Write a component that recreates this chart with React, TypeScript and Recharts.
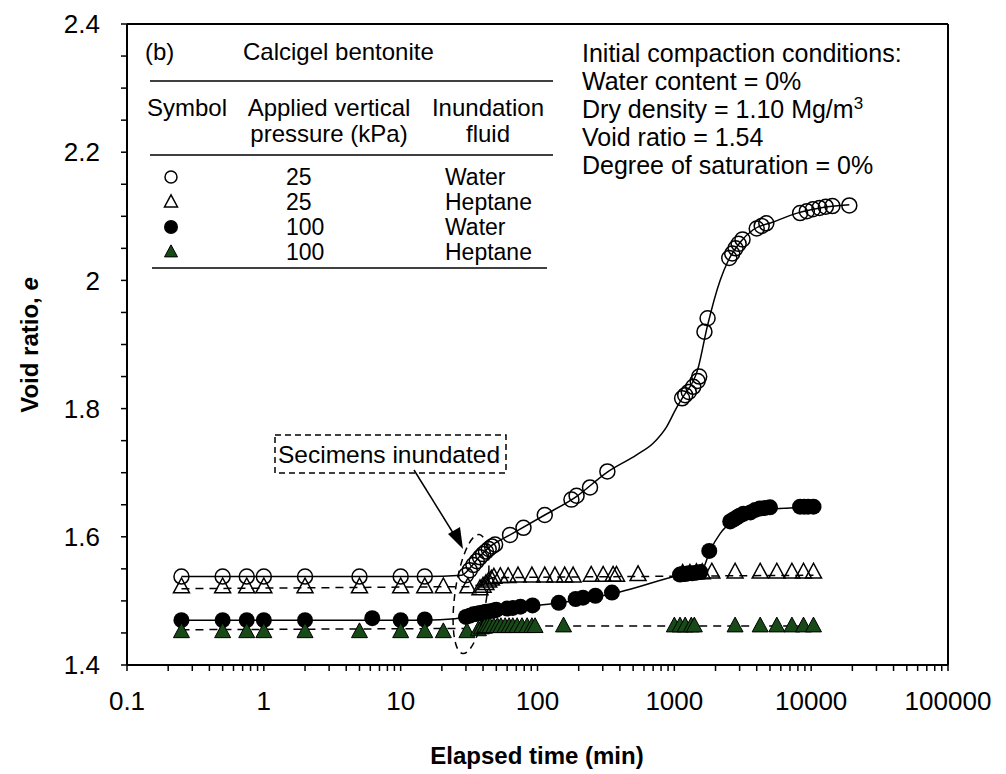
import React from "react";
import { ComposedChart, Line, Scatter, XAxis, YAxis } from "recharts";

const FONT = "'Liberation Sans', Arial, sans-serif";

// 25 kPa, water (open circles)
const water25Time = [0.25, 0.5, 0.75, 1, 2, 5, 10, 15, 30, 32, 34, 36, 38, 40, 42, 44, 46.5, 49, 63, 79, 113, 177, 193, 242, 324, 1140, 1200, 1275, 1375, 1480, 1520, 1660, 1750, 2520, 2650, 2800, 2950, 3150, 4000, 4350, 4700, 8300, 9300, 10300, 11500, 12800, 14300, 19000];
const water25Void = [1.538, 1.538, 1.538, 1.538, 1.538, 1.538, 1.538, 1.538, 1.54, 1.548, 1.556, 1.562, 1.568, 1.573, 1.577, 1.581, 1.585, 1.588, 1.603, 1.614, 1.634, 1.658, 1.664, 1.677, 1.702, 1.816, 1.821, 1.826, 1.834, 1.843, 1.85, 1.92, 1.941, 2.035, 2.042, 2.05, 2.057, 2.064, 2.081, 2.085, 2.089, 2.105, 2.108, 2.111, 2.113, 2.115, 2.116, 2.117];
const water25FitTime = [0.25, 15, 28, 32, 38, 46.5, 63, 113, 190, 324, 530, 700, 880, 1030, 1140, 1500, 1737, 2160, 2480, 3040, 3770, 5280, 7900, 11600, 19000];
const water25FitVoid = [1.538, 1.538, 1.54, 1.551, 1.57, 1.587, 1.603, 1.634, 1.662, 1.701, 1.728, 1.746, 1.772, 1.8, 1.816, 1.865, 1.927, 2.0, 2.031, 2.06, 2.079, 2.091, 2.105, 2.113, 2.118];

// 25 kPa, heptane (open triangles)
const heptane25Time = [0.25, 0.5, 0.75, 1, 2, 5, 10, 15, 20.5, 31, 38, 40, 42, 44, 46, 48, 53.5, 61, 72, 91, 113, 134, 158, 182, 247, 302, 357, 378, 543, 1150, 1300, 1450, 1600, 1880, 2780, 4240, 5610, 7230, 8790, 10400];
const heptane25Void = [1.522, 1.522, 1.522, 1.522, 1.522, 1.522, 1.522, 1.522, 1.522, 1.522, 1.519, 1.523, 1.527, 1.531, 1.534, 1.537, 1.538, 1.538, 1.539, 1.539, 1.539, 1.539, 1.539, 1.539, 1.54, 1.54, 1.54, 1.54, 1.541, 1.543, 1.543, 1.544, 1.544, 1.545, 1.545, 1.545, 1.545, 1.545, 1.545, 1.545];
const heptane25FitTime = [0.25, 20.5, 31, 38, 46, 100, 10400];
const heptane25FitVoid = [1.519, 1.522, 1.522, 1.525, 1.536, 1.537, 1.54];

// 100 kPa, water (filled circles)
const water100Time = [0.25, 0.5, 0.75, 1, 2, 6.2, 10, 15, 30, 32, 34, 36, 38, 40, 42, 45, 48, 50, 60, 66, 75, 92, 143, 190, 215, 265, 350, 1100, 1150, 1200, 1270, 1350, 1450, 1550, 1800, 2560, 2700, 2850, 3000, 3200, 3600, 3900, 4200, 4600, 5000, 8300, 8900, 9500, 10400];
const water100Void = [1.47, 1.47, 1.47, 1.47, 1.47, 1.473, 1.47, 1.471, 1.475, 1.477, 1.479, 1.48, 1.481, 1.482, 1.483, 1.484, 1.485, 1.486, 1.488, 1.489, 1.491, 1.493, 1.497, 1.503, 1.505, 1.508, 1.513, 1.541, 1.542, 1.542, 1.543, 1.543, 1.544, 1.545, 1.578, 1.624, 1.627, 1.63, 1.633, 1.636, 1.638, 1.642, 1.644, 1.645, 1.646, 1.647, 1.647, 1.647, 1.647];
const water100FitTime = [0.25, 15, 25, 30, 50, 146, 400, 1100, 1570, 1830, 2160, 2720, 3750, 5900, 10400];
const water100FitVoid = [1.47, 1.47, 1.472, 1.476, 1.486, 1.497, 1.514, 1.54, 1.546, 1.579, 1.605, 1.626, 1.639, 1.644, 1.647];

// 100 kPa, heptane (filled triangles)
const heptane100Time = [0.25, 0.5, 0.75, 1, 2, 5, 10, 15, 20.5, 30.5, 37, 39, 41, 43, 45, 48, 51, 54, 58, 62, 66, 71, 77, 84, 91, 96, 155, 1000, 1100, 1200, 1330, 1400, 2780, 4240, 5610, 7230, 8790, 10400];
const heptane100Void = [1.452, 1.452, 1.452, 1.452, 1.452, 1.452, 1.452, 1.452, 1.452, 1.452, 1.455, 1.458, 1.459, 1.46, 1.46, 1.46, 1.46, 1.46, 1.46, 1.46, 1.46, 1.46, 1.46, 1.46, 1.46, 1.46, 1.461, 1.461, 1.461, 1.461, 1.461, 1.461, 1.461, 1.461, 1.461, 1.461, 1.461, 1.461];
const heptane100FitTime = [0.25, 30.5, 38, 10400];
const heptane100FitVoid = [1.455, 1.457, 1.461, 1.461];

const xMajorTicks = [0.1, 1, 10, 100, 1000, 10000, 100000];
const xTickLabels = ["0.1", "1", "10", "100", "1000", "10000", "100000"];
const yTicks = [1.4, 1.45, 1.5, 1.55, 1.6, 1.65, 1.7, 1.75, 1.8, 1.85, 1.9, 1.95, 2.0, 2.05, 2.1, 2.15, 2.2, 2.25, 2.3, 2.35, 2.4];
const yTickLabels: Record<string, string> = { "1.4": "1.4", "1.6": "1.6", "1.8": "1.8", "2": "2", "2.2": "2.2", "2.4": "2.4" };

const pts = (ts: number[], es: number[]) => ts.map((t, i) => ({ t, e: es[i] }));

const xMinorTicks = xMajorTicks.slice(0, -1).flatMap((d) => [2, 3, 4, 5, 6, 7, 8, 9].map((k) => d * k));
const xTicks = [...xMajorTicks, ...xMinorTicks].sort((a, b) => a - b);

const xLabel = (v: number) => {
  const i = xMajorTicks.findIndex((m) => Math.abs(Math.log10(m) - Math.log10(v)) < 1e-6);
  return i >= 0 ? xTickLabels[i] : "";
};
const yLabel = (v: number) => yTickLabels[String(Math.round(v * 100) / 100)] || "";

const GREEN = "#184a18";

const OpenCircle = (p: any) => (
  <circle cx={p.cx} cy={p.cy} r={7.5} fill="none" stroke="#000" strokeWidth={1.5} />
);
const FilledCircle = (p: any) => <circle cx={p.cx} cy={p.cy} r={8} fill="#000" />;
const triPoints = (cx: number, cy: number, s: number) =>
  `${cx},${cy - s * 1.1} ${cx - s},${cy + s * 0.75} ${cx + s},${cy + s * 0.75}`;
const OpenTri = (p: any) => (
  <polygon points={triPoints(p.cx, p.cy, 8)} fill="none" stroke="#000" strokeWidth={1.5} />
);
const FilledTri = (p: any) => (
  <polygon points={triPoints(p.cx, p.cy, 8)} fill={GREEN} stroke="#000" strokeWidth={1} />
);

const tbl = { fontFamily: FONT, fontSize: 24, fill: "#000" } as const;
const row = { fontFamily: FONT, fontSize: 23, fill: "#000" } as const;
const note = { fontFamily: FONT, fontSize: 25, fill: "#000" } as const;

export default function App() {
  return (
    <div style={{ position: "absolute", left: 0, top: 0, width: 1006, height: 774, background: "#fff" }}>
      <ComposedChart width={1006} height={774} margin={{ top: 24, right: 58, bottom: 59, left: 67 }}>
        <XAxis
          type="number"
          dataKey="t"
          scale="log"
          domain={[0.1, 100000]}
          allowDataOverflow
          ticks={xTicks}
          interval={0}
          tickFormatter={xLabel}
          height={50}
          tickSize={6}
          tickMargin={21}
          tick={{ fontFamily: FONT, fontSize: 26, fill: "#000" }}
          tickLine={{ stroke: "#000", strokeWidth: 1.5 }}
          axisLine={{ stroke: "#000", strokeWidth: 2 }}
        />
        <YAxis
          type="number"
          dataKey="e"
          domain={[1.4, 2.4]}
          allowDataOverflow
          ticks={yTicks}
          interval={0}
          tickFormatter={yLabel}
          width={60}
          tickSize={6}
          tickMargin={21}
          tick={{ fontFamily: FONT, fontSize: 26, fill: "#000" }}
          tickLine={{ stroke: "#000", strokeWidth: 1.5 }}
          axisLine={{ stroke: "#000", strokeWidth: 2 }}
        />
        <Line data={pts(water25FitTime, water25FitVoid)} dataKey="e" type="monotone" stroke="#000" strokeWidth={1.5} dot={false} isAnimationActive={false} />
        <Line data={pts(heptane25FitTime, heptane25FitVoid)} dataKey="e" type="linear" stroke="#000" strokeWidth={1.5} strokeDasharray="8 6" dot={false} isAnimationActive={false} />
        <Line data={pts(water100FitTime, water100FitVoid)} dataKey="e" type="monotone" stroke="#000" strokeWidth={1.5} dot={false} isAnimationActive={false} />
        <Line data={pts(heptane100FitTime, heptane100FitVoid)} dataKey="e" type="linear" stroke="#000" strokeWidth={1.5} strokeDasharray="8 6" dot={false} isAnimationActive={false} />
        <Scatter data={pts(water25Time, water25Void)} shape={OpenCircle} isAnimationActive={false} />
        <Scatter data={pts(heptane25Time, heptane25Void)} shape={OpenTri} isAnimationActive={false} />
        <Scatter data={pts(water100Time, water100Void)} shape={FilledCircle} isAnimationActive={false} />
        <Scatter data={pts(heptane100Time, heptane100Void)} shape={FilledTri} isAnimationActive={false} />
      </ComposedChart>

      <svg width={1006} height={774} style={{ position: "absolute", left: 0, top: 0, pointerEvents: "none" }}>
        {/* plot frame */}
        <line x1={948} y1={24} x2={948} y2={665} stroke="#000" strokeWidth={2} />
        <line x1={127} y1={24} x2={948} y2={24} stroke="#000" strokeWidth={2} />

        {/* legend table */}
        <text x={145} y={60} {...tbl}>(b)</text>
        <text x={243} y={60} {...tbl}>Calcigel bentonite</text>
        <line x1={150} y1={81} x2={553} y2={81} stroke="#000" strokeWidth={1.5} />
        <text x={147} y={116} {...tbl}>Symbol</text>
        <text x={329} y={116} textAnchor="middle" {...tbl}>Applied vertical</text>
        <text x={329} y={142} textAnchor="middle" {...tbl}>pressure (kPa)</text>
        <text x={488} y={116} textAnchor="middle" {...tbl}>Inundation</text>
        <text x={488} y={142} textAnchor="middle" {...tbl}>fluid</text>
        <line x1={150} y1={155} x2={553} y2={155} stroke="#000" strokeWidth={1.5} />
        <circle cx={171} cy={177} r={6} fill="none" stroke="#000" strokeWidth={1.5} />
        <polygon points={triPoints(171, 202, 6.5)} fill="none" stroke="#000" strokeWidth={1.5} />
        <circle cx={171} cy={227} r={7} fill="#000" />
        <polygon points={triPoints(171, 252, 6.5)} fill={GREEN} stroke="#000" strokeWidth={1} />
        <text x={286} y={185} {...row}>25</text>
        <text x={286} y={210} {...row}>25</text>
        <text x={286} y={235} {...row}>100</text>
        <text x={286} y={260} {...row}>100</text>
        <text x={445} y={185} {...row}>Water</text>
        <text x={445} y={210} {...row}>Heptane</text>
        <text x={445} y={235} {...row}>Water</text>
        <text x={445} y={260} {...row}>Heptane</text>
        <line x1={152} y1={268} x2={547} y2={268} stroke="#000" strokeWidth={1.5} />

        {/* compaction conditions */}
        <text x={582} y={62} {...note}>Initial compaction conditions:</text>
        <text x={582} y={90} {...note}>Water content = 0%</text>
        <text x={582} y={118} {...note}>
          Dry density = 1.10 Mg/m<tspan dy={-9} fontSize={17}>3</tspan>
        </text>
        <text x={582} y={146} {...note}>Void ratio = 1.54</text>
        <text x={582} y={174} {...note}>Degree of saturation = 0%</text>

        {/* inundation annotation */}
        <rect x={275} y={435} width={231} height={38} fill="#fff" stroke="#000" strokeWidth={1.5} strokeDasharray="6 4" />
        <text x={278} y={463} fontFamily={FONT} fontSize={24.5} fill="#000">Secimens inundated</text>
        <line x1={414} y1={470} x2={455} y2={536} stroke="#000" strokeWidth={1.5} />
        <polygon points="463,549 448,534 460,527" fill="#000" />
        <ellipse cx={471} cy={594} rx={16} ry={60} fill="none" stroke="#000" strokeWidth={1.5} strokeDasharray="7 5" transform="rotate(8 471 594)" />

        {/* axis titles */}
        <text x={537} y={764} textAnchor="middle" fontFamily={FONT} fontSize={24} fontWeight="bold" fill="#000">
          Elapsed time (min)
        </text>
        <text
          x={0}
          y={0}
          textAnchor="middle"
          fontFamily={FONT}
          fontSize={24}
          fontWeight="bold"
          fill="#000"
          transform="translate(38 345) rotate(-90)"
        >
          Void ratio, <tspan fontStyle="italic">e</tspan>
        </text>
      </svg>
    </div>
  );
}
